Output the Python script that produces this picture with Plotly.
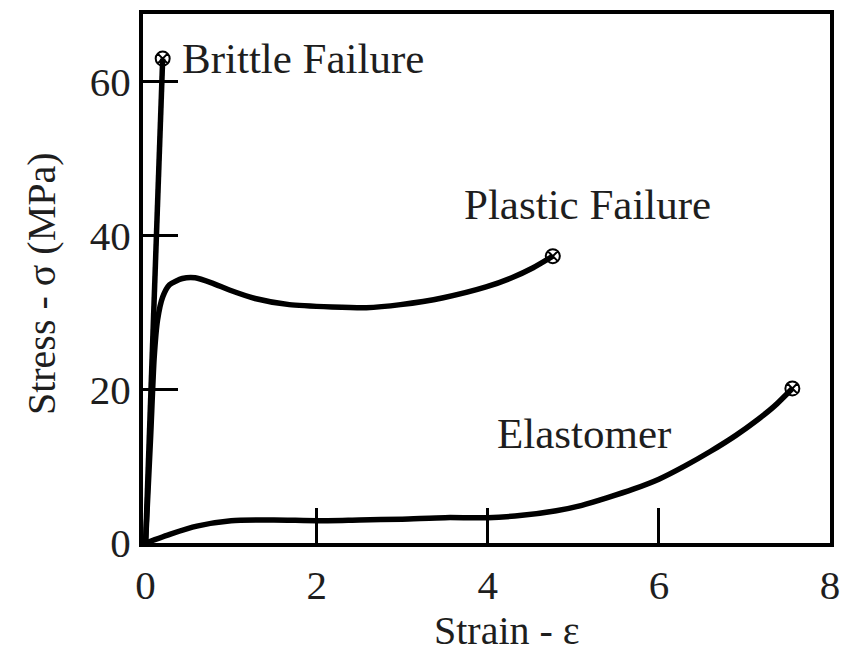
import plotly.graph_objects as go

# Stress-strain curves for three polymer behaviours
brittle_strain = [0.0, 0.20]
brittle_stress = [0.0, 63.0]

plastic_strain = [0.0, 0.06, 0.10, 0.14, 0.20, 0.28, 0.43, 0.58, 0.78, 0.98, 1.28,
                  1.68, 2.18, 2.58, 2.98, 3.48, 3.98, 4.28, 4.53, 4.76]
plastic_stress = [0.0, 14.0, 24.0, 29.0, 32.0, 33.6, 34.4, 34.5, 33.8, 32.9, 31.8,
                  31.0, 30.7, 30.6, 31.0, 31.9, 33.3, 34.5, 35.8, 37.3]

elastomer_strain = [0.0, 0.3, 0.6, 1.0, 1.5, 2.0, 2.5, 3.0, 3.5, 4.0, 4.4, 4.8,
                    5.1, 5.4, 5.7, 6.0, 6.3, 6.6, 6.9, 7.15, 7.35, 7.56]
elastomer_stress = [0.0, 1.2, 2.2, 2.9, 3.0, 2.9, 3.0, 3.1, 3.3, 3.3, 3.6, 4.2,
                    4.9, 5.9, 7.0, 8.3, 10.0, 11.9, 14.0, 16.0, 17.8, 20.1]

curve_labels = ["Brittle Failure", "Plastic Failure", "Elastomer"]
label_x = [0.40, 5.17, 5.13]
label_y = [63.0, 44.0, 14.2]

x_ticks = [0, 2, 4, 6, 8]
y_ticks = [0, 20, 40, 60]

x_title = "Strain - ε"
y_title = "Stress - σ (MPa)"

SERIF = "Liberation Serif, Times New Roman, serif"
INK = "#000000"
TEXT = "#1e1e1e"

fig = go.Figure()

for xs, ys in [(brittle_strain, brittle_stress),
               (plastic_strain, plastic_stress),
               (elastomer_strain, elastomer_stress)]:
    fig.add_trace(go.Scatter(
        x=xs, y=ys, mode="lines",
        line=dict(color=INK, width=5.5, shape="spline", smoothing=0.6),
        showlegend=False, hoverinfo="skip",
    ))
    # failure point marker at the end of each curve
    fig.add_trace(go.Scatter(
        x=[xs[-1]], y=[ys[-1]], mode="markers",
        marker=dict(symbol="circle-x-open", size=14, color=INK,
                    line=dict(color=INK, width=2)),
        showlegend=False, hoverinfo="skip",
    ))

for text, lx, ly in zip(curve_labels, label_x, label_y):
    fig.add_annotation(
        x=lx, y=ly, xref="x", yref="y", text=text, showarrow=False,
        xanchor="left" if text == "Brittle Failure" else "center",
        yanchor="middle",
        font=dict(family=SERIF, size=43, color=TEXT),
    )

# axis titles
fig.add_annotation(
    x=0.530, y=-0.209, xref="paper", yref="paper", text=x_title,
    showarrow=False, xanchor="center", yanchor="bottom", borderpad=0,
    font=dict(family=SERIF, size=40, color=TEXT),
)
fig.add_annotation(
    x=-0.148, y=0.49, xref="paper", yref="paper", text=y_title,
    showarrow=False, xanchor="center", yanchor="middle", textangle=-90,
    font=dict(family=SERIF, size=40, color=TEXT),
)

axis_common = dict(
    showline=True, linecolor=INK, linewidth=4, mirror=True,
    ticks="inside", ticklen=35, tickwidth=2.5, tickcolor=INK,
    showgrid=False, zeroline=False,
    tickfont=dict(family=SERIF, size=41, color=TEXT),
)

fig.update_xaxes(range=[-0.03, 8.0], tickvals=x_ticks, ticklabelstandoff=3,
                 **axis_common)
fig.update_yaxes(range=[0, 68.8], tickvals=y_ticks, ticklabelstandoff=0,
                 **axis_common)

fig.update_layout(
    width=850, height=655,
    margin=dict(l=143, r=13, t=10, b=112),
    paper_bgcolor="white", plot_bgcolor="white",
)

fig.write_html("out.html")
